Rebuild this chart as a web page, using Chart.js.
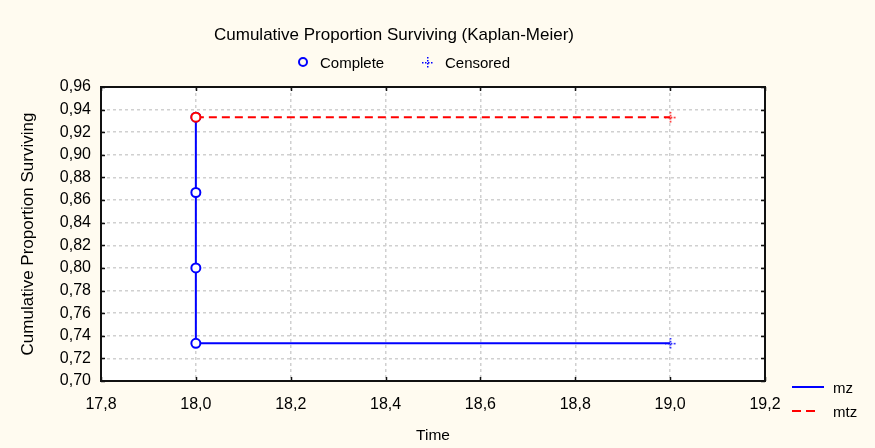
<!DOCTYPE html>
<html lang="en">
<head>
  <meta charset="UTF-8">
  <title>Cumulative Proportion Surviving (Kaplan-Meier)</title>
  <script src="https://cdn.jsdelivr.net/npm/chart.js"></script>
  <style>
    body {
      margin: 0;
      background: #fffbf0;
    }
    #wrap {
      width: 875px;
      height: 448px;
    }
  </style>
</head>
<body>
  <div id="wrap">
    <canvas id="kmChart" width="875" height="448"></canvas>
  </div>

  <script>
    // data
    const mzTime = [18.0, 18.0, 18.0, 18.0, 19.0];
    const mzSurv = [0.9333, 0.8667, 0.8000, 0.7333, 0.7333];
    const mzCensored = [false, false, false, false, true];

    const mtzTime = [18.0, 19.0];
    const mtzSurv = [0.9333, 0.9333];
    const mtzCensored = [false, true];

    const xTicks = [17.8, 18.0, 18.2, 18.4, 18.6, 18.8, 19.0, 19.2];
    const yTicks = [0.70, 0.72, 0.74, 0.76, 0.78, 0.80, 0.82, 0.84, 0.86, 0.88, 0.90, 0.92, 0.94, 0.96];

    const FONT = "'Liberation Sans', Arial, sans-serif";

    // small dotted plus used for censored cases
    function censorMark(color) {
      const c = document.createElement("canvas");
      c.width = 11;
      c.height = 11;
      const g = c.getContext("2d");
      g.fillStyle = color;
      for (let i = 0; i <= 10; i += 3) {
        g.fillRect(5, i, 1.5, 1.5);
        g.fillRect(i, 5, 1.5, 1.5);
      }
      return c;
    }
    const blueMark = censorMark("#0000ff");
    const redMark = censorMark("#ff0000");

    function toPoints(xs, ys) {
      return xs.map((x, i) => ({ x: x, y: ys[i] }));
    }

    const decor = {
      id: "decor",
      beforeDraw(chart) {
        const { ctx, chartArea: a } = chart;
        ctx.save();
        ctx.fillStyle = "#ffffff";
        ctx.fillRect(a.left, a.top, a.right - a.left, a.bottom - a.top);
        ctx.restore();
      },
      afterDraw(chart) {
        const { ctx, chartArea: a, scales } = chart;
        ctx.save();
        // frame
        ctx.strokeStyle = "#111111";
        ctx.lineWidth = 2;
        ctx.strokeRect(a.left, a.top, a.right - a.left, a.bottom - a.top);

        // inward tick marks on all four sides
        ctx.lineWidth = 1.5;
        ctx.beginPath();
        xTicks.forEach(v => {
          const px = Math.round(scales.x.getPixelForValue(v)) + 0.5;
          ctx.moveTo(px, a.bottom); ctx.lineTo(px, a.bottom - 4);
          ctx.moveTo(px, a.top); ctx.lineTo(px, a.top + 4);
        });
        yTicks.forEach(v => {
          const py = Math.round(scales.y.getPixelForValue(v)) + 0.5;
          ctx.moveTo(a.left, py); ctx.lineTo(a.left + 4, py);
          ctx.moveTo(a.right, py); ctx.lineTo(a.right - 4, py);
        });
        ctx.stroke();

        ctx.fillStyle = "#000000";
        ctx.textBaseline = "middle";

        // title
        ctx.font = "17px " + FONT;
        ctx.textAlign = "center";
        ctx.fillText("Cumulative Proportion Surviving (Kaplan-Meier)", 394, 35);

        // top legend
        ctx.font = "15px " + FONT;
        ctx.textAlign = "left";
        ctx.strokeStyle = "#0000ff";
        ctx.lineWidth = 2;
        ctx.beginPath();
        ctx.arc(303, 62, 4, 0, Math.PI * 2);
        ctx.stroke();
        ctx.fillText("Complete", 320, 63.5);
        ctx.drawImage(blueMark, 422, 57);
        ctx.fillText("Censored", 445, 63.5);

        // series legend
        ctx.lineWidth = 2;
        ctx.strokeStyle = "#0000ff";
        ctx.beginPath();
        ctx.moveTo(792, 387);
        ctx.lineTo(824, 387);
        ctx.stroke();
        ctx.strokeStyle = "#ff0000";
        ctx.setLineDash([9, 5]);
        ctx.beginPath();
        ctx.moveTo(792, 411);
        ctx.lineTo(815, 411);
        ctx.stroke();
        ctx.setLineDash([]);
        ctx.fillText("mz", 833, 388.5);
        ctx.fillText("mtz", 833, 412.5);
        ctx.restore();
      }
    };

    const chart = new Chart(document.getElementById("kmChart"), {
      type: "line",
      data: {
        datasets: [{
          label: "mtz",
          data: toPoints(mtzTime, mtzSurv),
          borderColor: "#ff0000",
          borderWidth: 2,
          borderDash: [8, 5],
          pointStyle: c => mtzCensored[c.dataIndex] ? redMark : "circle",
          pointRadius: 4.5,
          pointBorderWidth: 2,
          pointBorderColor: "#ff0000",
          pointBackgroundColor: "#ffffff",
          fill: false
        }, {
          label: "mz",
          data: toPoints(mzTime, mzSurv),
          borderColor: "#0000ff",
          borderWidth: 2,
          pointStyle: c => mzCensored[c.dataIndex] ? blueMark : "circle",
          pointRadius: 4.5,
          pointBorderWidth: 2,
          pointBorderColor: "#0000ff",
          pointBackgroundColor: "#ffffff",
          fill: false
        }]
      },
      options: {
        responsive: false,
        animation: false,
        events: [],
        layout: { padding: { top: 87, right: 110 } },
        plugins: {
          legend: { display: false },
          tooltip: { enabled: false }
        },
        scales: {
          x: {
            type: "linear",
            min: 17.8,
            max: 19.2,
            afterBuildTicks: s => { s.ticks = xTicks.map(v => ({ value: v })); },
            afterFit: s => { s.height = 67; },
            ticks: {
              color: "#000000",
              font: { family: FONT, size: 16 },
              padding: 14,
              callback: v => v.toFixed(1).replace(".", ",")
            },
            grid: {
              color: "#d0d0d0",
              lineWidth: 1.5,
              drawTicks: false
            },
            border: { display: false, dash: [3, 3] },
            title: {
              display: true,
              text: "Time",
              color: "#000000",
              font: { family: FONT, size: 15.5 },
              padding: { top: 0, bottom: 3 }
            }
          },
          y: {
            type: "linear",
            min: 0.70,
            max: 0.96,
            afterBuildTicks: s => { s.ticks = yTicks.map(v => ({ value: v })); },
            afterFit: s => { s.width = 101; },
            ticks: {
              color: "#000000",
              font: { family: FONT, size: 16 },
              padding: 10,
              callback: v => v.toFixed(2).replace(".", ",")
            },
            grid: {
              color: "#d0d0d0",
              lineWidth: 1.5,
              drawTicks: false
            },
            border: { display: false, dash: [3, 3] },
            title: {
              display: true,
              text: "Cumulative Proportion Surviving",
              color: "#000000",
              font: { family: FONT, size: 17 },
              padding: { top: 18, bottom: 0 }
            }
          }
        }
      },
      plugins: [decor]
    });
  </script>
</body>
</html>
